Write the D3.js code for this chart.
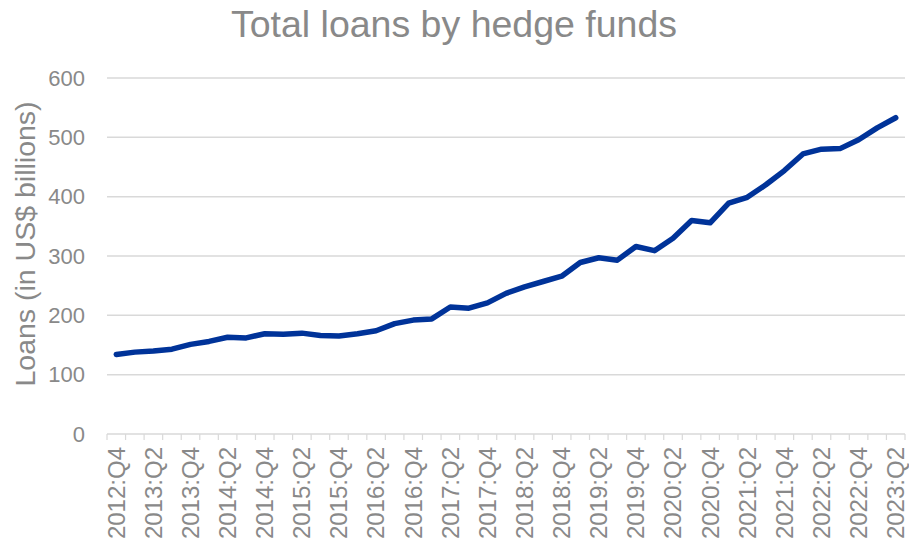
<!DOCTYPE html>
<html>
<head>
<meta charset="utf-8">
<script src="https://cdn.jsdelivr.net/npm/d3@7"></script>
<style>
  html, body { margin: 0; padding: 0; background: #fff; }
  svg { display: block; font-family: "Liberation Sans", Arial, sans-serif; }
</style>
</head>
<body>
<svg id="chart" width="909" height="542"></svg>
<script>
const quarters = [
  "2012:Q4",
  "2013:Q1","2013:Q2","2013:Q3","2013:Q4",
  "2014:Q1","2014:Q2","2014:Q3","2014:Q4",
  "2015:Q1","2015:Q2","2015:Q3","2015:Q4",
  "2016:Q1","2016:Q2","2016:Q3","2016:Q4",
  "2017:Q1","2017:Q2","2017:Q3","2017:Q4",
  "2018:Q1","2018:Q2","2018:Q3","2018:Q4",
  "2019:Q1","2019:Q2","2019:Q3","2019:Q4",
  "2020:Q1","2020:Q2","2020:Q3","2020:Q4",
  "2021:Q1","2021:Q2","2021:Q3","2021:Q4",
  "2022:Q1","2022:Q2","2022:Q3","2022:Q4",
  "2023:Q1","2023:Q2"
];
const loans = [
  134,
  138, 140, 143, 151,
  156, 163, 162, 169,
  168, 170, 166, 165,
  169, 174, 186, 192,
  194, 214, 212, 221,
  237, 248, 257, 266,
  289, 297, 293, 316,
  309, 330, 360, 356,
  389, 399, 420, 444,
  472, 480, 481, 496,
  516, 533
];
const yTicks = [0, 100, 200, 300, 400, 500, 600];
const xLabels = quarters.filter((q, i) => i % 2 === 0);

const titleText = "Total loans by hedge funds";
const yTitle = "Loans (in US$ billions)";

const svg = d3.select("#chart");
const plotLeft = 107, plotRight = 905, plotTop = 78, plotBottom = 434;
const textColor = "#898989";
const gridColor = "#d9d9d9";

const x = d3.scaleBand().domain(quarters).range([plotLeft, plotRight]).padding(0);
const y = d3.scaleLinear().domain([0, 600]).range([plotBottom, plotTop]);

// gridlines
svg.append("g").selectAll("line").data(yTicks.filter(d => d > 0)).join("line")
  .attr("x1", plotLeft).attr("x2", plotRight)
  .attr("y1", d => y(d)).attr("y2", d => y(d))
  .attr("stroke", gridColor).attr("stroke-width", 1.5);

// y tick labels
svg.append("g").selectAll("text").data(yTicks).join("text")
  .attr("x", 85).attr("y", d => y(d)).attr("dy", "0.35em")
  .attr("text-anchor", "end")
  .attr("fill", textColor).attr("font-size", 22)
  .text(d => d);

// x axis line + ticks at category boundaries
svg.append("line")
  .attr("x1", plotLeft).attr("x2", plotRight).attr("y1", plotBottom).attr("y2", plotBottom)
  .attr("stroke", gridColor).attr("stroke-width", 1.5);
const bounds = quarters.map(q => x(q)).concat([plotRight]);
svg.append("g").selectAll("line").data(bounds).join("line")
  .attr("x1", d => d).attr("x2", d => d)
  .attr("y1", plotBottom).attr("y2", plotBottom + 6)
  .attr("stroke", gridColor).attr("stroke-width", 1.2);

// x labels
svg.append("g").selectAll("text").data(xLabels).join("text")
  .attr("transform", d => `translate(${x(d) + x.bandwidth() / 2},447) rotate(-90)`)
  .attr("dy", "0.35em")
  .attr("text-anchor", "end")
  .attr("fill", textColor).attr("font-size", 24)
  .text(d => d);

// line
const line = d3.line()
  .x((d, i) => x(quarters[i]) + x.bandwidth() / 2)
  .y(d => y(d));
svg.append("path").datum(loans)
  .attr("d", line)
  .attr("fill", "none")
  .attr("stroke", "#003399")
  .attr("stroke-width", 5.5)
  .attr("stroke-linejoin", "round")
  .attr("stroke-linecap", "round");

// title
svg.append("text")
  .attr("x", 454).attr("y", 37)
  .attr("text-anchor", "middle")
  .attr("fill", textColor).attr("font-size", 37.5)
  .text(titleText);

// y title
svg.append("text")
  .attr("transform", `translate(35,244) rotate(-90)`)
  .attr("text-anchor", "middle")
  .attr("fill", textColor).attr("font-size", 28.5)
  .text(yTitle);
</script>
</body>
</html>
